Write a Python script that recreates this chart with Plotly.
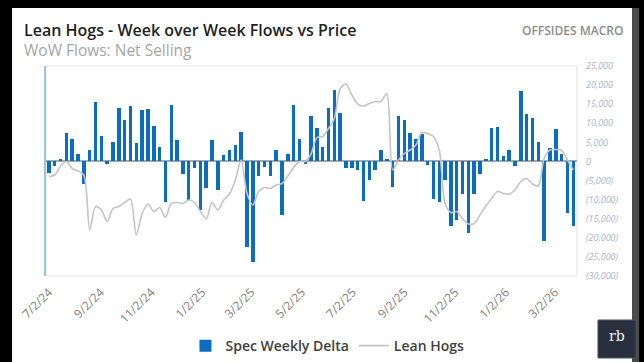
import pandas as pd
import plotly.graph_objects as go

# Weekly observations (Tuesdays), first week
week_start = "2024-07-02"

# Speculators' week-over-week change in net position (contracts)
spec_weekly_delta = [
    -3000, -1300, 600, 7550, 6000, 1900, -5800, 2900, 15700, 6700,
    -600, 5200, 14100, 10900, 14600, 4900, 13600, 13700, 9400, 3700,
    -10700, 14800, 5600, -3200, -10200, -1700, -12600, -6900, 5600, -7400,
    1700, 3000, 4300, 7600, -22300, -26300, -3700, -1500, -3900, 3000,
    -14100, 2000, 14800, 5900, -600, 12000, 8700, 3900, 13900, 18600,
    12800, -1700, -1700, -2300, -10400, -4800, -2300, 3000, 600, -6700,
    12000, 10900, 7550, 5900, 7200, -900, -9800, -10700, -4800, -16900,
    -15400, -8500, -18800, -8400, -3200, 600, 8700, 9100, 1500, 3000,
    -1100, 18500, 12400, 11500, 5200, -20800, 3600, 8500, 2000, -13600,
    -16900,
]

# Lean hog futures price ($/cwt)
lean_hogs = [
    91.5, 91.8, 93.6, 94.5, 93.1, 92.6, 91.8, 80.8, 85.5, 84.8,
    82.5, 85.1, 85.5, 86.3, 87.0, 79.8, 84.1, 86.0, 84.5, 85.3,
    83.3, 86.1, 86.3, 86.1, 86.8, 86.3, 84.5, 83.0, 86.3, 84.8,
    86.8, 88.0, 90.8, 94.8, 88.1, 85.8, 88.5, 89.3, 89.1, 89.8,
    90.1, 91.6, 93.3, 94.5, 94.5, 96.0, 99.3, 99.5, 101.1, 103.1,
    109.1, 110.0, 107.8, 106.0, 105.6, 106.1, 106.5, 106.5, 108.1, 92.8,
    94.8, 96.1, 96.8, 97.8, 100.3, 100.1, 99.5, 96.8, 86.1, 84.3,
    84.5, 83.1, 82.0, 82.1, 83.8, 85.6, 87.1, 88.5, 88.1, 88.0,
    88.8, 90.5, 91.1, 90.0, 89.6, 95.1, 96.8, 96.9, 96.7, 94.8,
    92.8,
]

date_labels = ["7/2/24", "9/2/24", "11/2/24", "1/2/25", "3/2/25", "5/2/25",
               "7/2/25", "9/2/25", "11/2/25", "1/2/26", "3/2/26"]

flow_ticks = [25000, 20000, 15000, 10000, 5000, 0,
              -5000, -10000, -15000, -20000, -25000, -30000]
flow_tick_text = ["25,000", "20,000", "15,000", "10,000", "5,000", "0",
                  "(5,000)", "(10,000)", "(15,000)", "(20,000)", "(25,000)", "(30,000)"]

weeks = pd.date_range(week_start, periods=len(spec_weekly_delta), freq="7D")
label_dates = pd.to_datetime(date_labels, format="%m/%d/%y")

FONT = "Open Sans"
DAY_MS = 86400000

fig = go.Figure()
fig.add_trace(go.Bar(
    x=weeks, y=spec_weekly_delta, name="Spec Weekly Delta",
    marker=dict(color="#0B6DBF", line=dict(width=0)),
    width=4.2 * DAY_MS, yaxis="y",
))
fig.add_trace(go.Scatter(
    x=weeks, y=lean_hogs, name="Lean Hogs", mode="lines",
    line=dict(color="#c4c4c4", width=1.6, shape="spline", smoothing=0.8),
    yaxis="y2",
))

# Card background, frame and border strip
shapes = [
    dict(type="rect", xref="paper", yref="paper", x0=-0.064, x1=1.1036,
         y0=-0.42, y1=1.2762, fillcolor="white", line=dict(width=0), layer="below"),
    dict(type="rect", xref="paper", yref="paper", x0=1.1036, x1=1.117,
         y0=-0.42, y1=1.2762, fillcolor="#4a4a4a", line=dict(width=0), layer="below"),
    dict(type="rect", xref="paper", yref="paper", x0=0, x1=1, y0=0, y1=1,
         fillcolor="rgba(0,0,0,0)", line=dict(color="#e3e3e3", width=1), layer="below"),
    # logo badge
    dict(type="rect", xref="paper", yref="paper", x0=1.0395, x1=1.1111,
         y0=-0.3905, y1=-0.2095, fillcolor="#28303d",
         line=dict(color="#4b5566", width=1), layer="above"),
]

annotations = [
    dict(text="Lean Hogs - Week over Week Flows vs Price", xref="paper", yref="paper",
         x=-0.0452, y=1.1714, xanchor="left", yanchor="middle", showarrow=False,
         font=dict(family=FONT, size=16, color="#1f1f1f", weight=600)),
    dict(text="WoW Flows: Net Selling", xref="paper", yref="paper",
         x=-0.0452, y=1.0762, xanchor="left", yanchor="middle", showarrow=False,
         font=dict(family=FONT, size=15.5, color="#a6a6a6")),
    dict(text="OFFSIDES MACRO", xref="paper", yref="paper",
         x=1.0904, y=1.1714, xanchor="right", yanchor="middle", showarrow=False,
         font=dict(family=FONT, size=12, color="#8c8c8c", weight=600)),
    dict(text="rb", xref="paper", yref="paper",
         x=1.0753, y=-0.285, xanchor="center", yanchor="middle", showarrow=False,
         font=dict(family="DejaVu Serif", size=14, color="#f2f2f2")),
]

fig.update_layout(
    width=644, height=362,
    margin=dict(l=46, r=67, t=66, b=86, autoexpand=False),
    paper_bgcolor="black",
    plot_bgcolor="white",
    font=dict(family=FONT),
    shapes=shapes,
    annotations=annotations,
    bargap=0,
    xaxis=dict(
        type="date", automargin=False,
        range=["2024-06-28 12:00", "2026-03-28 12:00"],
        tickvals=label_dates, ticktext=date_labels,
        tickangle=-45, ticks="", showgrid=False, zeroline=False, showline=False,
        ticklabelstandoff=6,
        tickfont=dict(family=FONT, size=12, color="#7f7f7f"),
    ),
    yaxis=dict(
        side="right", range=[-30000, 25000], automargin=False,
        tickvals=flow_ticks, ticktext=flow_tick_text,
        showgrid=False, ticks="", ticklabelstandoff=8,
        zeroline=True, zerolinecolor="#a8a8a8", zerolinewidth=1.5,
        tickfont=dict(family=FONT, size=9, color="#a9b5c6", style="italic"),
    ),
    yaxis2=dict(
        overlaying="y", side="left", range=[71.6, 113.6], automargin=False,
        showticklabels=False, showgrid=False, zeroline=False, ticks="",
        showline=True, linecolor="#9dc5d6", linewidth=1.5,
    ),
    legend=dict(
        orientation="h", xref="container", yref="container",
        x=0.5085, y=0.044, xanchor="center", yanchor="middle",
        font=dict(family=FONT, size=14, color="#404040", weight=600),
        bgcolor="rgba(0,0,0,0)", itemwidth=30,
    ),
)

fig.write_html("out.html")
